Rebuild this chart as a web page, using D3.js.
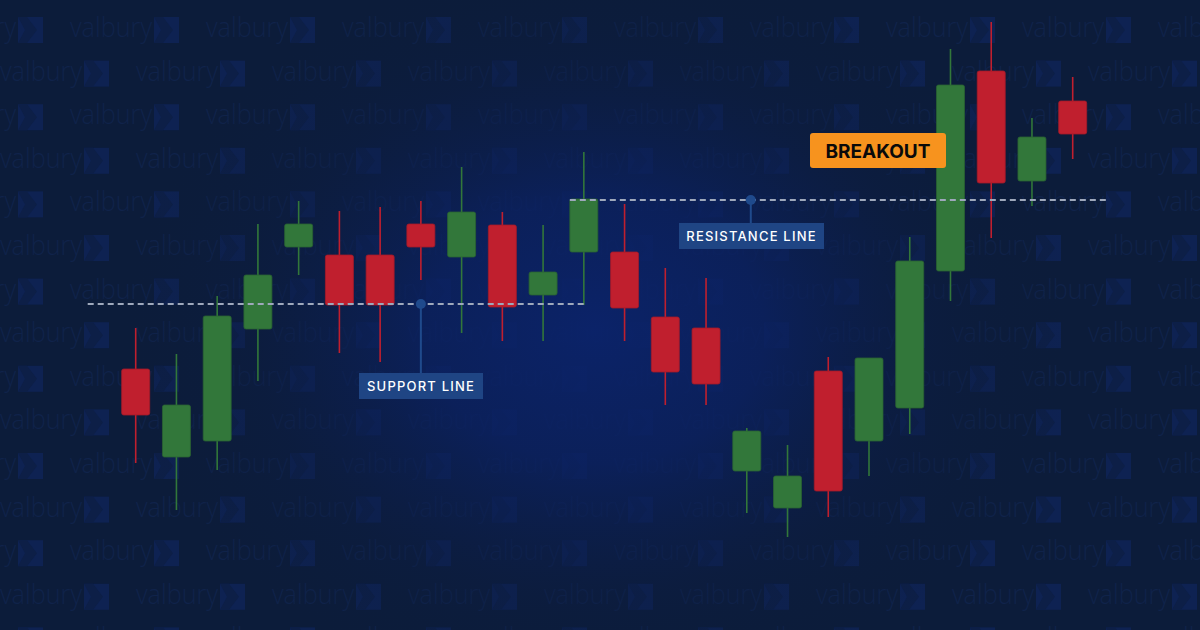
<!DOCTYPE html>
<html><head><meta charset="utf-8">
<script src="https://cdn.jsdelivr.net/npm/d3@7"></script>
<style>html,body{margin:0;padding:0;background:#0c1c3a;}svg{display:block;}</style>
</head><body>
<svg id="chart" width="1200" height="630"></svg>
<script>
// ---- data (price units) ----
const opens  = [261,173,189,301,383,375,375,406,373,405,335,378,378,313,302,159,122,259,189,222,359,559,449,529];
const highs  = [302,276,334,406,429,419,423,429,463,418,405,478,426,362,352,202,185,273,272,393,581,608,512,553];
const lows   = [167,120,160,249,355,277,268,350,297,289,289,325,289,225,225,117, 93,113,154,196,329,392,424,471];
const closes = [215,225,314,355,406,325,325,383,418,323,358,431,322,258,246,199,154,139,272,369,545,447,493,496];
const supportLevel = 326;
const resistanceLevel = 430;
const labels = ["SUPPORT LINE","RESISTANCE LINE","BREAKOUT"];
const watermarkText = "valbury";

const W = 1200, H = 630;
const svg = d3.select("#chart");
const defs = svg.append("defs");

const candles = opens.map((o,i)=>({i, o, h:highs[i], l:lows[i], c:closes[i]}));
const x = d3.scaleLinear().domain([0, candles.length-1]).range([135.7, 1072.7]);
const y = d3.scaleLinear().domain([0, 630]).range([630, 0]);
const bw = 28;

// background
svg.append("rect").attr("width",W).attr("height",H).attr("fill","#0c1c3a");

// watermark pattern
const wm = svg.append("g");
for (let k=0;k<15;k++){
  const cy = 30 + 43.6*k;
  const off = (k%2===0) ? 70 : 0;
  for (let n=-1;n<10;n++){
    const x0 = off + 136*n;
    const g = wm.append("g").attr("transform",`translate(${x0},${cy})`);
    g.append("text").text(watermarkText)
      .attr("x",0).attr("y",7)
      .attr("font-family","Open Sans, sans-serif").attr("font-weight",300)
      .attr("font-size",28).attr("textLength",82).attr("lengthAdjust","spacingAndGlyphs")
      .attr("fill","#10234a");
    g.append("rect").attr("x",84).attr("y",-13).attr("width",25).attr("height",26).attr("fill","#0e2252");
    g.append("path").attr("d","M84,-13 L93,-13 L103,0 L93,13 L84,13 L91,0 Z").attr("fill","#0d1f47");
  }
}

// glow
const rg = defs.append("radialGradient").attr("id","glow")
  .attr("gradientUnits","userSpaceOnUse").attr("cx",595).attr("cy",330).attr("r",420)
  .attr("gradientTransform","translate(595,330) scale(1.15,0.9) translate(-595,-330)");
rg.append("stop").attr("offset","0").attr("stop-color","#0b236a").attr("stop-opacity",0.97);
rg.append("stop").attr("offset","0.35").attr("stop-color","#0b2161").attr("stop-opacity",0.82);
rg.append("stop").attr("offset","0.7").attr("stop-color","#0c1d45").attr("stop-opacity",0.4);
rg.append("stop").attr("offset","1").attr("stop-color","#0c1c3a").attr("stop-opacity",0);
svg.append("rect").attr("width",W).attr("height",H).attr("fill","url(#glow)");

const lineCol = "#9ea8bb";
// candles
const green = "#32773a", red = "#c01f2e";
const cg = svg.append("g").selectAll("g").data(candles).join("g");
cg.append("line")
  .attr("x1",d=>x(d.i)).attr("x2",d=>x(d.i))
  .attr("y1",d=>y(d.h)).attr("y2",d=>y(d.l))
  .attr("stroke",d=>d.c>=d.o?green:red).attr("stroke-width",1.6);
cg.append("rect")
  .attr("x",d=>x(d.i)-bw/2).attr("width",bw)
  .attr("y",d=>y(Math.max(d.o,d.c)))
  .attr("height",d=>Math.abs(y(d.o)-y(d.c)))
  .attr("rx",2)
  .attr("fill",d=>d.c>=d.o?green:red)
  .attr("stroke",d=>d.c>=d.o?"#2a6232":"#a51b29").attr("stroke-width",0.8);

// support / resistance lines (drawn over candles)
svg.append("line")
  .attr("x1", x(0)-48).attr("x2", x(11))
  .attr("y1", y(supportLevel)).attr("y2", y(supportLevel))
  .attr("stroke",lineCol).attr("stroke-width",1.8).attr("stroke-dasharray","6,4");
svg.append("line")
  .attr("x1", x(11)-bw/2).attr("x2", x(23)+37)
  .attr("y1", y(resistanceLevel)).attr("y2", y(resistanceLevel))
  .attr("stroke",lineCol).attr("stroke-width",1.8).attr("stroke-dasharray","6,4");

// annotation callouts
const boxFill = "#1f4584", markCol = "#1f4a8c";
function callout(cx, level, boxX, boxY, boxW, boxH, text){
  const ly = y(level);
  svg.append("line").attr("x1",cx).attr("x2",cx).attr("y1",ly).attr("y2",boxY)
    .attr("stroke",markCol).attr("stroke-width",2);
  svg.append("circle").attr("cx",cx).attr("cy",ly).attr("r",5).attr("fill",markCol);
  svg.append("rect").attr("x",boxX).attr("y",boxY).attr("width",boxW).attr("height",boxH).attr("fill",boxFill);
  svg.append("text").text(text).attr("x",boxX+boxW/2).attr("y",boxY+boxH/2+5)
    .attr("text-anchor","middle").attr("fill","#ffffff")
    .attr("font-family","Inter, sans-serif").attr("font-weight",500)
    .attr("font-size",13).attr("letter-spacing",1.2);
}
callout(x(7), supportLevel, 359, 373, 124, 26, labels[0]);
callout(x(15)+4, resistanceLevel, 679, 223, 145, 26, labels[1]);

// breakout label
svg.append("rect").attr("x",810).attr("y",133).attr("width",136).attr("height",35).attr("rx",3)
  .attr("fill","#f7931e");
svg.append("text").text(labels[2]).attr("x",878).attr("y",158)
  .attr("text-anchor","middle").attr("fill","#0a0a0a")
  .attr("font-family","Inter, sans-serif").attr("font-weight",700).attr("font-size",19);
</script>
</body></html>
